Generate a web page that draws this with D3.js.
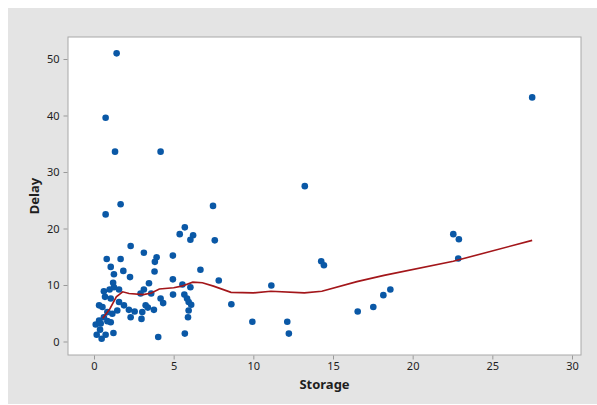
<!DOCTYPE html>
<html>
<head>
<meta charset="utf-8">
<script src="https://cdn.jsdelivr.net/npm/d3@7"></script>
<style>
  body { margin: 0; background: #fff; }
  svg { display: block; font-family: "Noto Sans", "Open Sans", sans-serif; }
</style>
</head>
<body>
<script>
// data
var storage = [1.42, 0.73, 1.32, 4.18, 1.67, 0.73, 7.47, 5.70, 13.23, 22.55, 22.9, 22.86, 14.26, 14.43,
  11.13, 9.94, 12.13, 12.23, 16.55, 17.53, 18.16, 18.6, 27.5,
  5.38, 6.22, 6.05, 7.58, 2.30, 3.13, 3.93, 3.82, 0.80, 1.67, 1.05, 4.95, 6.68, 1.84, 1.25, 3.80,
  2.26, 7.83, 4.95, 3.45, 1.20, 5.55, 6.05, 0.62, 0.98, 1.57, 1.25, 3.13, 2.92, 3.59, 4.96, 5.67,
  5.84, 5.94, 6.10, 5.94, 5.90, 4.18, 4.34, 0.69, 1.05, 0.32, 0.53, 1.57, 1.88, 1.46, 2.19, 2.55,
  3.24, 3.38, 3.76, 3.03, 2.30, 2.98, 0.84, 1.15, 0.62, 0.32, 0.11, 0.42, 0.84, 1.05, 0.38, 0.17,
  0.73, 0.48, 1.22, 4.03, 5.70, 8.62];
var delay = [51.0, 39.6, 33.6, 33.6, 24.3, 22.5, 24.0, 20.2, 27.5, 19.0, 18.1, 14.7, 14.2, 13.5,
  9.9, 3.5, 3.5, 1.4, 5.3, 6.1, 8.2, 9.2, 43.2,
  19.0, 18.8, 18.0, 17.9, 16.9, 15.7, 14.9, 14.1, 14.6, 14.6, 13.2, 15.2, 12.7, 12.5, 11.9, 12.4,
  11.4, 10.8, 11.0, 10.3, 10.4, 10.1, 9.6, 8.9, 9.2, 9.2, 9.6, 9.2, 8.5, 8.5, 8.3, 8.3,
  7.6, 7.0, 6.5, 5.5, 4.3, 7.6, 6.8, 7.9, 7.6, 6.4, 6.1, 7.0, 6.4, 5.5, 5.6, 5.3,
  6.4, 6.0, 5.6, 5.2, 4.3, 4.0, 5.2, 4.9, 4.3, 3.7, 3.0, 3.2, 3.6, 3.4, 2.1, 1.2,
  1.2, 0.5, 1.5, 0.8, 1.4, 6.6];

// lowess smoother line
var fitX = [0.55, 1.0, 1.4, 1.8, 2.2, 3.1, 3.6, 4.1, 5.0, 5.5, 6.2, 6.8, 7.5, 8.6, 10.0, 11.1, 13.2, 14.3, 16.5, 18.2, 22.55, 27.5];
var fitY = [4.1, 5.8, 7.9, 8.8, 8.5, 8.3, 8.6, 9.3, 9.5, 9.8, 10.5, 10.4, 9.8, 8.7, 8.6, 8.9, 8.6, 8.9, 10.6, 11.7, 14.2, 17.9];

var xTicks = [0, 5, 10, 15, 20, 25, 30];
var yTicks = [0, 10, 20, 30, 40, 50];

var W = 597, H = 405;
var plot = {left: 68, top: 37, right: 581, bottom: 355};

var svg = d3.select("body").append("svg")
    .attr("width", W)
    .attr("height", H);

// gray panel
svg.append("rect")
    .attr("x", 8).attr("y", 8)
    .attr("width", W - 8).attr("height", H - 9)
    .attr("fill", "#e4e4e4");

var x = d3.scaleLinear().domain([0, 30]).range([94, 572]);
var y = d3.scaleLinear().domain([0, 50]).range([341.5, 59]);

// plot area
svg.append("rect")
    .attr("x", plot.left).attr("y", plot.top)
    .attr("width", plot.right - plot.left).attr("height", plot.bottom - plot.top)
    .attr("fill", "#fff")
    .attr("stroke", "#a8a8a8")
    .attr("stroke-width", 1);

var xAxis = svg.append("g")
    .attr("transform", "translate(0," + (plot.bottom + 0.5) + ")")
    .call(d3.axisBottom(x).tickValues(xTicks).tickSize(4).tickSizeOuter(0).tickPadding(3));

var yAxis = svg.append("g")
    .attr("transform", "translate(" + (plot.left - 0.5) + ",0)")
    .call(d3.axisLeft(y).tickValues(yTicks).tickSize(4).tickSizeOuter(0).tickPadding(4));

[xAxis, yAxis].forEach(function (g) {
    g.select(".domain").remove();
    g.selectAll(".tick line").attr("stroke", "#999");
    g.selectAll(".tick text")
        .attr("fill", "#1e1e1e")
        .style("font-size", "11px")
        .style("font-family", "'Noto Sans', sans-serif");
});

// axis titles
svg.append("text")
    .attr("x", (plot.left + plot.right) / 2)
    .attr("y", 389)
    .attr("text-anchor", "middle")
    .attr("fill", "#1e1e1e")
    .style("font-size", "13px")
    .style("font-weight", "bold")
    .text("Storage");

svg.append("text")
    .attr("transform", "translate(39," + ((plot.top + plot.bottom) / 2) + ") rotate(-90)")
    .attr("text-anchor", "middle")
    .attr("fill", "#1e1e1e")
    .style("font-size", "13px")
    .style("font-weight", "bold")
    .text("Delay");

// points
var points = storage.map(function (s, i) { return {x: s, y: delay[i]}; });

svg.append("g")
    .selectAll("circle")
    .data(points)
    .enter().append("circle")
    .attr("cx", function (d) { return x(d.x); })
    .attr("cy", function (d) { return y(d.y); })
    .attr("r", 3.3)
    .attr("fill", "#0a58a6");

// smoother
var fit = fitX.map(function (v, i) { return [v, fitY[i]]; });
var line = d3.line()
    .x(function (d) { return x(d[0]); })
    .y(function (d) { return y(d[1]); });

svg.append("path")
    .datum(fit)
    .attr("d", line)
    .attr("fill", "none")
    .attr("stroke", "#a3161a")
    .attr("stroke-width", 1.6);
</script>
</body>
</html>
